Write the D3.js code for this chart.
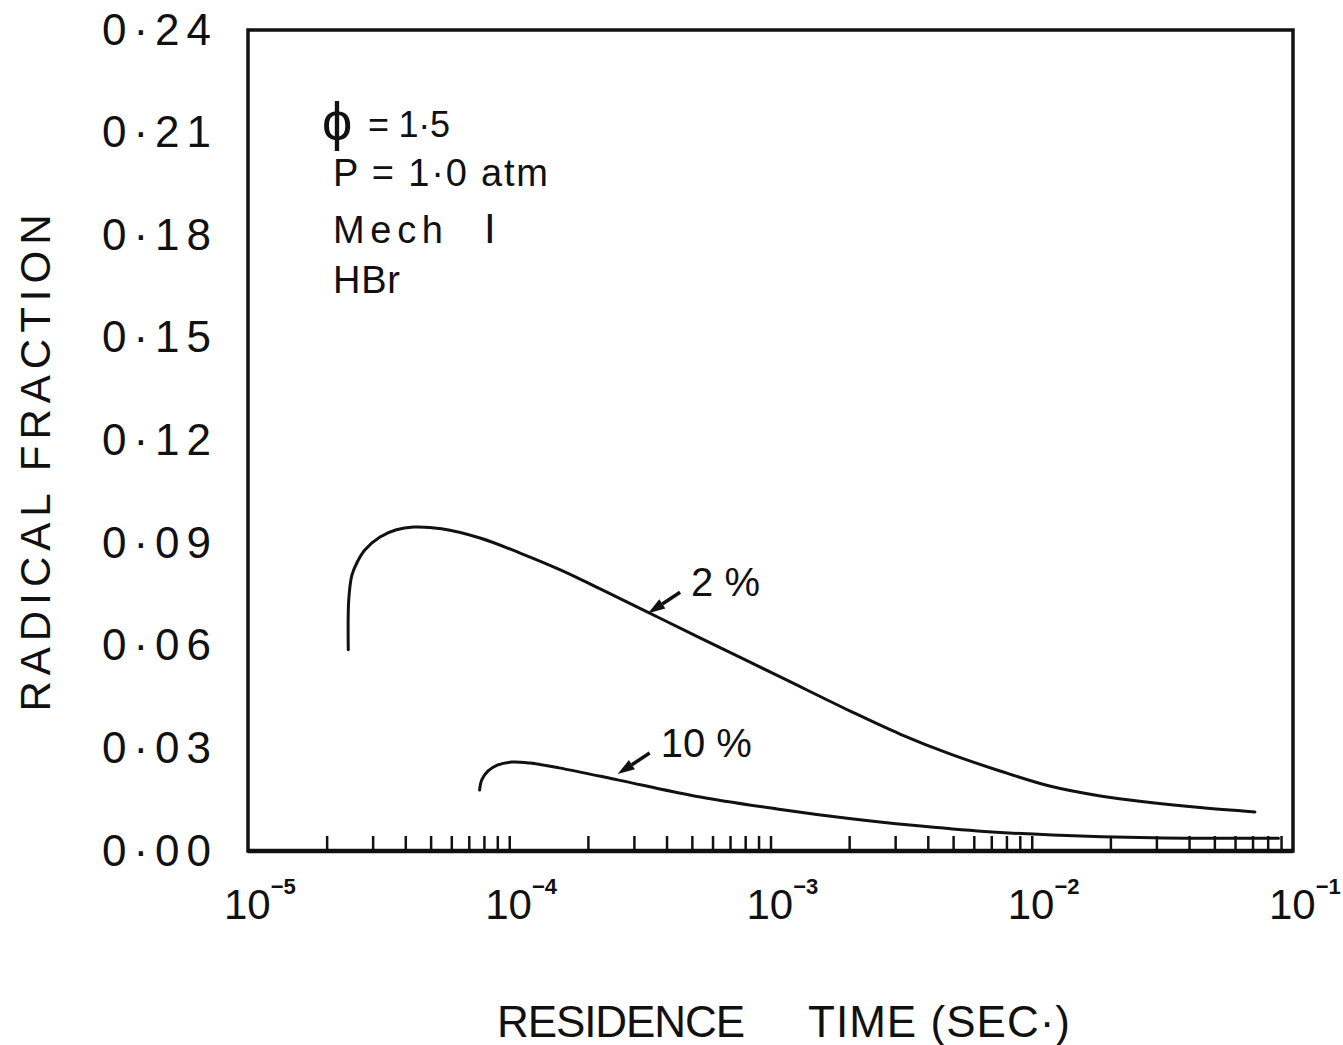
<!DOCTYPE html>
<html>
<head>
<meta charset="utf-8">
<script src="https://cdn.jsdelivr.net/npm/d3@7"></script>
<style>
  body { margin: 0; background: #fff; }
  svg text { font-family: 'Liberation Sans', Arial, sans-serif; fill: #111; }
</style>
</head>
<body>
<svg id="chart" width="1343" height="1045"></svg>
<script>
// values
const yTicks = [0, 0.03, 0.06, 0.09, 0.12, 0.15, 0.18, 0.21, 0.24];
const decades = [1e-5, 1e-4, 1e-3, 1e-2, 1e-1];
const exponents = ['5', '4', '3', '2', '1'];

const time2 = [2.42e-5, 2.43e-5, 2.5e-5, 2.62e-5, 2.8e-5, 3.2e-5, 3.7e-5, 4.3e-5, 5.5e-5,
  7.73e-5, 1.1e-4, 1.6e-4, 2.23e-4, 3.37e-4, 5.37e-4, 1.09e-3, 2.02e-3, 3.13e-3, 4.86e-3,
  7.56e-3, 1.17e-2, 1.83e-2, 2.84e-2, 4.41e-2, 7.15e-2];
const frac2 = [0.0588, 0.0734, 0.0807, 0.0845, 0.088, 0.0918, 0.0939, 0.0947, 0.0942,
  0.0915, 0.0871, 0.0819, 0.0766, 0.0699, 0.0623, 0.0509, 0.0409, 0.0342, 0.0284,
  0.0234, 0.019, 0.0161, 0.0142, 0.0127, 0.0114];

const time10 = [7.7e-5, 7.85e-5, 8.3e-5, 9.0e-5, 1.02e-4, 1.2e-4, 1.55e-4, 2.6e-4, 5.1e-4,
  1.06e-3, 2.0e-3, 3.5e-3, 6.6e-3, 1.2e-2, 2.9e-2, 8.8e-2];
const frac10 = [0.0178, 0.0208, 0.0234, 0.0251, 0.026, 0.0257, 0.0243, 0.0208, 0.0161,
  0.0123, 0.0095, 0.0075, 0.0057, 0.0047, 0.0039, 0.0037];

const curveLabels = ['2 %', '10 %'];
const arrowTime = [3.4e-4, 2.6e-4];
const arrowFrac = [0.0695, 0.0225];

const svg = d3.select('#chart');

const plotLeft = 248;
const plotRight = 1293;
const plotTop = 30;
const plotBottom = 851;

const x = d3.scaleLog().domain([1e-5, 1e-1]).range([plotLeft, plotRight]);
const y = d3.scaleLinear().domain([0, 0.24]).range([plotBottom, plotTop]);

// frame
svg
  .append('rect')
  .attr('x', plotLeft)
  .attr('y', plotTop)
  .attr('width', plotRight - plotLeft)
  .attr('height', plotBottom - plotTop)
  .attr('fill', 'none')
  .attr('stroke', '#111')
  .attr('stroke-width', 3.5);

svg
  .append('line')
  .attr('x1', plotLeft)
  .attr('x2', plotRight)
  .attr('y1', plotBottom)
  .attr('y2', plotBottom)
  .attr('stroke', '#111')
  .attr('stroke-width', 4.5);

// minor log ticks pointing into the plot
const minor = decades
  .slice(0, -1)
  .flatMap(d => d3.range(1, 10).map(k => k * d))
  .filter(t => t > 1.01e-5);

svg
  .append('g')
  .attr('transform', `translate(0, ${plotBottom})`)
  .call(
    d3
      .axisBottom(x)
      .tickValues(minor)
      .tickSize(-15)
      .tickFormat('')
  )
  .call(g => g.select('.domain').remove())
  .call(g => g.selectAll('.tick line').attr('stroke', '#111').attr('stroke-width', 2.5));

// decade labels 10^-n
const xLabels = svg
  .append('g')
  .selectAll('text')
  .data(decades)
  .join('text')
  .attr('x', d => x(d) - 24)
  .attr('y', 919)
  .attr('font-size', 42);

xLabels.append('tspan').text('10');
xLabels
  .append('tspan')
  .attr('dy', -25)
  .attr('font-size', 22)
  .attr('font-weight', 'bold')
  .text((d, i) => '\u2212' + exponents[i]);

// y labels, no tick marks
svg
  .append('g')
  .attr('transform', `translate(${plotLeft}, 0)`)
  .call(
    d3
      .axisLeft(y)
      .tickValues(yTicks)
      .tickSize(0)
      .tickPadding(30)
      .tickFormat(d => d3.format('.2f')(d).replace('.', '\u00b7'))
  )
  .call(g => g.select('.domain').remove())
  .call(g =>
    g
      .selectAll('.tick text')
      .attr('fill', '#111')
      .attr('font-family', "'Liberation Sans', Arial, sans-serif")
      .attr('font-size', 44)
      .attr('letter-spacing', 7)
  );

// curves
const line = d3
  .line()
  .x(d => x(d[0]))
  .y(d => y(d[1]))
  .curve(d3.curveCatmullRom.alpha(0.5));

[d3.zip(time2, frac2), d3.zip(time10, frac10)].forEach(pts => {
  svg
    .append('path')
    .attr('d', line(pts))
    .attr('fill', 'none')
    .attr('stroke', '#111')
    .attr('stroke-width', 3)
    .attr('stroke-linecap', 'round');
});

// arrows + curve labels
curveLabels.forEach((label, i) => {
  const tx = x(arrowTime[i]);
  const ty = y(arrowFrac[i]);
  const dx = 32;
  const dy = -21;
  const len = Math.hypot(dx, dy);
  const ux = dx / len;
  const uy = dy / len;
  const head = 17;
  const half = 5.5;
  const bx = tx + ux * head;
  const by = ty + uy * head;

  svg
    .append('line')
    .attr('x1', bx)
    .attr('y1', by)
    .attr('x2', tx + dx)
    .attr('y2', ty + dy)
    .attr('stroke', '#111')
    .attr('stroke-width', 3.5);

  svg
    .append('path')
    .attr('d', `M${tx},${ty}L${bx - uy * half},${by + ux * half}L${bx + uy * half},${by - ux * half}Z`)
    .attr('fill', '#111');

  svg
    .append('text')
    .attr('x', tx + 43)
    .attr('y', ty - 17)
    .attr('font-size', 40)
    .text(label);
});

// conditions block
svg
  .append('text')
  .attr('x', 322)
  .attr('y', 140)
  .attr('font-family', "'DejaVu Sans', sans-serif")
  .attr('font-size', 54)
  .text('\u03d5');

svg
  .append('text')
  .attr('x', 368)
  .attr('y', 137)
  .attr('font-size', 36)
  .attr('textLength', 82)
  .text('= 1\u00b75');

svg
  .append('text')
  .attr('x', 333)
  .attr('y', 186)
  .attr('font-size', 38)
  .attr('textLength', 215)
  .text('P = 1\u00b70  atm');

svg
  .append('text')
  .attr('x', 333)
  .attr('y', 243)
  .attr('font-size', 38)
  .attr('textLength', 110)
  .text('Mech');

svg
  .append('text')
  .attr('x', 484)
  .attr('y', 243)
  .attr('font-family', "'Liberation Serif', 'Times New Roman', serif")
  .attr('font-size', 42)
  .text('I');

svg
  .append('text')
  .attr('x', 333)
  .attr('y', 293)
  .attr('font-size', 38)
  .attr('textLength', 67)
  .text('HBr');

// axis titles
svg
  .append('text')
  .attr('transform', 'translate(50, 463) rotate(-90)')
  .attr('text-anchor', 'middle')
  .attr('font-size', 42)
  .attr('textLength', 497)
  .text('RADICAL  FRACTION');

svg
  .append('text')
  .attr('x', 497)
  .attr('y', 1037)
  .attr('font-size', 44)
  .attr('textLength', 248)
  .text('RESIDENCE');

svg
  .append('text')
  .attr('x', 808)
  .attr('y', 1037)
  .attr('font-size', 44)
  .attr('textLength', 262)
  .text('TIME (SEC\u00b7)');
</script>
</body>
</html>
